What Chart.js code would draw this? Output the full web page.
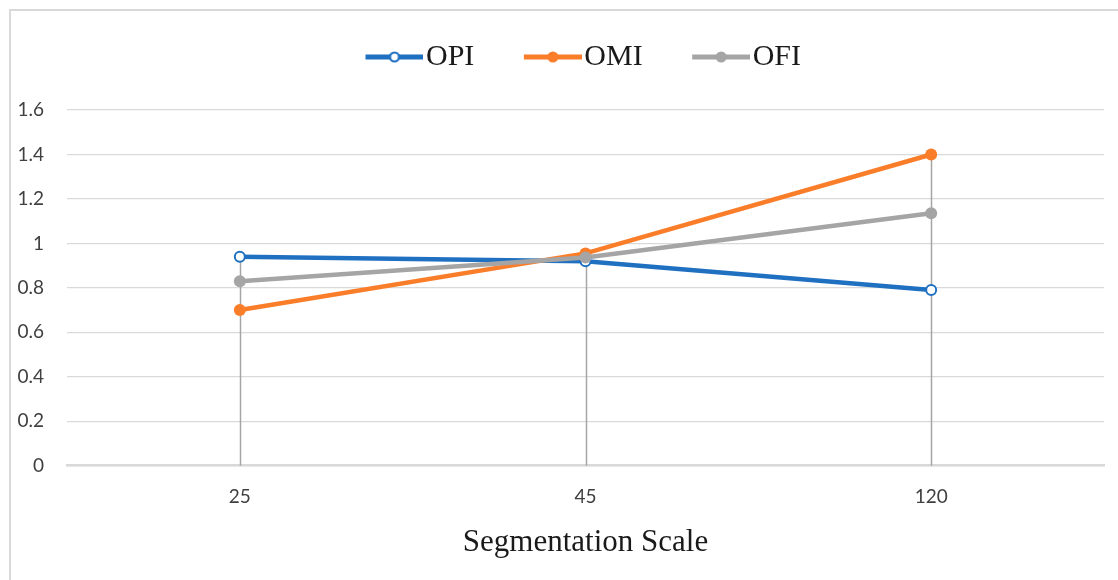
<!DOCTYPE html>
<html>
<head>
<meta charset="utf-8">
<script src="https://cdn.jsdelivr.net/npm/chart.js@4.4.1/dist/chart.umd.min.js"></script>
<style>
html,body{margin:0;padding:0;background:#fff;}
#wrap{width:1118px;height:580px;position:relative;}
</style>
</head>
<body>
<div id="wrap"><canvas id="c" width="1118" height="580"></canvas></div>
<script>
const categories = ['25', '45', '120'];
const opiValues = [0.94, 0.92, 0.79];
const omiValues = [0.70, 0.955, 1.40];
const ofiValues = [0.83, 0.937, 1.136];
const yTicks = [0, 0.2, 0.4, 0.6, 0.8, 1, 1.2, 1.4, 1.6];

const BLUE = '#1F70C1';
const ORANGE = '#FA7D29';
const GRAY = '#A5A5A5';

const LEG_FS = 30;
const LEG_BOX = 41;
const LEG_PAD = 54;
const ICON_W = LEG_BOX + LEG_FS - 5;

function legendIcon(color, hollow) {
  const c = document.createElement('canvas');
  c.width = ICON_W; c.height = 20;
  const g = c.getContext('2d');
  const x0 = ICON_W - 58;
  g.strokeStyle = color; g.lineWidth = 5; g.lineCap = 'butt';
  g.beginPath(); g.moveTo(x0, 10); g.lineTo(ICON_W, 10); g.stroke();
  g.beginPath(); g.arc(x0 + 29, 10, hollow ? 4.5 : 5.5, 0, Math.PI * 2);
  if (hollow) { g.fillStyle = '#fff'; g.fill(); g.lineWidth = 2.2; g.stroke(); }
  else { g.fillStyle = color; g.fill(); }
  return c;
}

const dropLines = {
  id: 'dropLines',
  beforeDatasetsDraw(chart) {
    const {ctx, scales: {x, y}} = chart;
    ctx.save();
    ctx.strokeStyle = '#A5A5A5';
    ctx.lineWidth = 1.5;
    categories.forEach((cat, i) => {
      const top = Math.max(opiValues[i], omiValues[i], ofiValues[i]);
      const px = Math.round(x.getPixelForValue(i)) + 0.5;
      ctx.beginPath();
      ctx.moveTo(px, y.getPixelForValue(top));
      ctx.lineTo(px, y.getPixelForValue(0));
      ctx.stroke();
    });
    ctx.restore();
  }
};

const frame = {
  id: 'frame',
  beforeDraw(chart) {
    const ctx = chart.ctx;
    ctx.save();
    ctx.fillStyle = '#fff';
    ctx.fillRect(0, 0, chart.width, chart.height);
    ctx.strokeStyle = '#D9D9D9';
    ctx.lineWidth = 2;
    ctx.beginPath();
    ctx.moveTo(10, chart.height);
    ctx.lineTo(10, 10);
    ctx.lineTo(chart.width, 10);
    ctx.stroke();
    ctx.restore();
  }
};

new Chart(document.getElementById('c'), {
  type: 'line',
  data: {
    labels: categories,
    datasets: [
      {label: 'OPI', data: opiValues, borderColor: BLUE, backgroundColor: '#fff',
       pointBorderColor: BLUE, pointBackgroundColor: '#fff', pointRadius: 5, pointBorderWidth: 2,
       borderWidth: 4.5, order: 2, icon: legendIcon(BLUE, true)},
      {label: 'OMI', data: omiValues, borderColor: ORANGE, backgroundColor: ORANGE,
       pointBorderColor: ORANGE, pointBackgroundColor: ORANGE, pointRadius: 6, pointBorderWidth: 0,
       borderWidth: 4.5, order: 1, icon: legendIcon(ORANGE, false)},
      {label: 'OFI', data: ofiValues, borderColor: GRAY, backgroundColor: GRAY,
       pointBorderColor: GRAY, pointBackgroundColor: GRAY, pointRadius: 6, pointBorderWidth: 0,
       borderWidth: 4.5, order: 0, icon: legendIcon(GRAY, false)}
    ]
  },
  options: {
    responsive: false,
    animation: false,
    layout: {padding: {left: 0, right: 14, top: -12, bottom: 23.5}},
    plugins: {
      tooltip: {enabled: false},
      title: {display: true, text: '', padding: 0, font: {size: 28, lineHeight: 1}},
      legend: {
        position: 'top',
        fullSize: false,
        weight: 3000,
        labels: {
          usePointStyle: true,
          pointStyleWidth: LEG_BOX,
          padding: LEG_PAD,
          color: '#1a1a1a',
          font: {family: "'Liberation Serif', serif", size: LEG_FS},
          generateLabels(chart) {
            return chart.data.datasets.map((d, i) => ({
              text: d.label, pointStyle: d.icon, fillStyle: d.borderColor,
              strokeStyle: d.borderColor, lineWidth: 0, hidden: false, datasetIndex: i,
              fontColor: '#1a1a1a'
            }));
          }
        }
      }
    },
    scales: {
      x: {
        offset: true,
        grid: {display: false, drawTicks: false},
        border: {display: true, color: '#D9D9D9', width: 2.5},
        ticks: {padding: 20, color: '#404040', font: {family: 'Lato', size: 19}},
        title: {display: true, text: 'Segmentation Scale', color: '#1a1a1a',
                font: {family: "'Liberation Serif', serif", size: 31, lineHeight: 1},
                padding: {top: -1, bottom: -2}}
      },
      y: {
        min: 0, max: 1.6,
        afterBuildTicks(s) { s.ticks = yTicks.map(v => ({value: v})); },
        afterFit(s) { s.width = 67; },
        grid: {color: '#D9D9D9', lineWidth: 1.3, drawTicks: false},
        border: {display: false},
        ticks: {padding: 23, color: '#404040', font: {family: 'Lato', size: 19},
                callback: v => String(Math.round(v * 10) / 10)}
      }
    }
  },
  plugins: [frame, dropLines]
});
</script>
</body>
</html>
